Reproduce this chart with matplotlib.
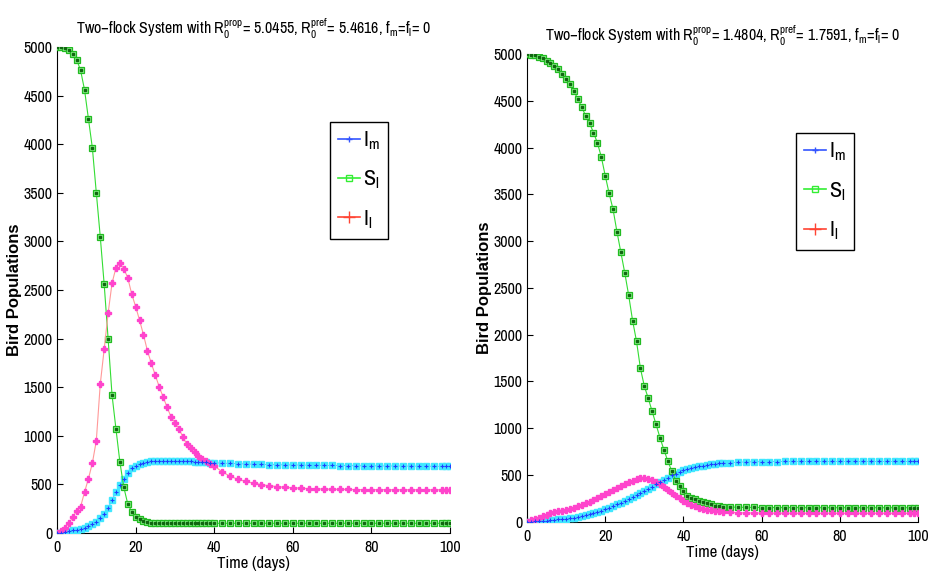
import matplotlib
matplotlib.use('Agg')
import matplotlib.pyplot as plt
from matplotlib.lines import Line2D

narrow = ['Archivo Narrow', 'Roboto Condensed', 'Liberation Sans', 'DejaVu Sans']
plt.rcParams['font.family'] = narrow
plt.rcParams['mathtext.fontset'] = 'custom'
plt.rcParams['mathtext.rm'] = 'Archivo Narrow'
plt.rcParams['mathtext.it'] = 'Archivo Narrow'
plt.rcParams['mathtext.bf'] = 'Archivo Narrow:bold'

# ---- left panel: R0 = 5.0455 / 5.4616 ----
t_left = list(range(0, 41)) + list(range(42, 100, 2)) + [99, 100]

S_left = [5000, 4995, 4985, 4965, 4930, 4870, 4760, 4560, 4260, 3960,
          3500, 3050, 2560, 2000, 1420, 1070, 730, 470, 300, 220,
          168, 140, 122, 113, 107, 104, 102, 101, 101, 100,
          100, 100, 100, 100, 100, 100, 100, 100, 100, 100, 100] + [100] * 29 + [100, 100]

Il_left = [0, 20, 50, 100, 160, 230, 270, 420, 560, 720,
           950, 1530, 1890, 2260, 2570, 2730, 2775, 2720, 2625, 2460,
           2330, 2190, 2040, 1875, 1745, 1625, 1505, 1400, 1295, 1196,
           1135, 1075, 990, 915, 870, 830, 795, 765, 740, 715, 690,
           630, 585, 553, 530, 512, 498, 486, 478, 470, 465,
           461, 457, 454, 452, 450, 449, 448, 447, 447, 446,
           446, 446, 445, 445, 445, 445, 445, 445, 445,
           445, 445]

Im_left = [0, 5, 10, 18, 26, 35, 44, 55, 70, 90,
           115, 150, 195, 255, 340, 420, 490, 560, 615, 665,
           690, 708, 722, 730, 736, 739, 741, 743, 744, 744,
           744, 743, 742, 740, 738, 735, 733, 730, 727, 724, 722,
           719, 716, 713, 710, 708, 706, 704, 702, 701, 700,
           699, 698, 697, 696, 695, 694, 693, 692, 691, 691,
           690, 690, 689, 689, 688, 688, 687, 687, 686,
           686, 686]

# ---- right panel: R0 = 1.4804 / 1.7591 ----
t_right = list(range(0, 51)) + list(range(52, 100, 2)) + [99, 100]

S_right = [5000, 4995, 4985, 4970, 4955, 4930, 4905, 4875, 4840, 4790,
           4735, 4675, 4600, 4520, 4430, 4340, 4260, 4160, 4050, 3900,
           3700, 3510, 3340, 3100, 2880, 2660, 2420, 2150, 1930, 1640,
           1450, 1320, 1180, 1040, 900, 770, 650, 545, 440, 380,
           325, 280, 255, 238, 222, 210, 197, 185, 172, 165, 160,
           157, 155, 154, 153, 152, 152, 151, 151, 151, 151,
           150, 150, 150, 150, 150, 150, 150, 150, 150, 150, 150, 150,
           150, 150, 150, 150]

Il_right = [0, 15, 30, 45, 60, 75, 90, 100, 110, 120,
            130, 140, 152, 165, 180, 195, 212, 230, 250, 272,
            295, 315, 336, 357, 378, 400, 420, 440, 455, 466,
            468, 462, 450, 430, 405, 375, 340, 305, 275, 250,
            225, 200, 180, 165, 150, 140, 130, 122, 115, 110, 105,
            100, 96, 94, 93, 92, 91, 91, 91, 90, 90,
            90, 90, 90, 90, 90, 90, 90, 90, 90, 90, 90, 90,
            90, 90, 90, 90]

Im_right = [0, 2, 4, 7, 10, 13, 16, 20, 24, 28,
            32, 36, 44, 52, 62, 70, 80, 92, 105, 118,
            132, 148, 168, 185, 205, 225, 245, 265, 285, 305,
            330, 355, 375, 400, 425, 448, 472, 495, 515, 532,
            548, 560, 572, 582, 592, 600, 607, 613, 618, 623, 627,
            632, 637, 639, 641, 642, 643, 643, 644, 644, 644,
            645, 645, 645, 645, 645, 645, 645, 645, 645, 645, 645, 645,
            645, 645, 645, 645]

titles = ['Two\u2212flock System with R$_0^{prop}$= 5.0455, R$_0^{pref}$= 5.4616, f$_m$=f$_l$= 0',
          'Two\u2212flock System with R$_0^{prop}$= 1.4804, R$_0^{pref}$= 1.7591, f$_m$=f$_l$= 0']
labels = ['I$_m$', 'S$_l$', 'I$_l$']

fig = plt.figure(figsize=(9.3, 5.81), dpi=100)
ax1 = fig.add_axes([0.0613, 0.0826, 0.4226, 0.8365])
ax2 = fig.add_axes([0.5667, 0.102, 0.4204, 0.805])

panels = [(ax1, t_left, S_left, Il_left, Im_left, titles[0], (0.695, 0.846)),
          (ax2, t_right, S_right, Il_right, Im_right, titles[1], (0.688, 0.831))]

for ax, t, S, Il, Im, title, legpos in panels:
    # I_m : cyan blobs with blue centre
    ax.plot(t, Im, color='#8080ff', lw=0.6, marker='s', ms=4.5,
            mfc='#40e8ff', mec='#40e8ff', zorder=3)
    ax.plot(t, Im, ls='none', marker='+', ms=3, mew=0.8, color='#2040ff', zorder=4)
    # S_l : green squares
    ax.plot(t, S, color='#33dd33', lw=0.8, marker='s', ms=4.5,
            mfc='#88ee88', mec='#22bb22', mew=0.9, zorder=3)
    ax.plot(t, S, ls='none', marker='s', ms=1.6, color='#116611', zorder=4)
    # I_l : magenta crosses on a red line
    ax.plot(t, Il, color='#ff9999', lw=0.8, marker='P', ms=4.5,
            mfc='#ff44cc', mec='#ff44cc', zorder=3)

    ax.set_xlim(0, 100)
    ax.set_ylim(0, 5000)
    ax.set_xticks([0, 20, 40, 60, 80, 100])
    ax.set_yticks(range(0, 5001, 500))
    ax.tick_params(direction='in', labelsize=11.5, length=4)
    ax.tick_params(axis='x', pad=5)
    ax.spines['top'].set_visible(False)
    ax.spines['right'].set_visible(False)
    ax.set_xlabel('Time (days)', fontsize=12, labelpad=1)
    ax.set_ylabel('Bird Populations', fontsize=12, fontweight='bold',
                  family=['Liberation Sans', 'DejaVu Sans'])
    ax.yaxis.set_label_coords(-0.09, 0.5)
    ax.set_title(title, fontsize=11.5, pad=9)

    handles = [Line2D([], [], color='#3355ff', marker='+', ms=5, lw=1.2),
               Line2D([], [], color='#33ee33', marker='s', ms=4, mfc='none', lw=1.2),
               Line2D([], [], color='#ff4433', marker='+', ms=8, lw=1.2)]
    ax.legend(handles, labels, loc='upper left', bbox_to_anchor=legpos, borderaxespad=0,
              fontsize=16, labelspacing=0.75, handlelength=1.0, handletextpad=0.15,
              borderpad=0.35, fancybox=False, edgecolor='black', framealpha=1)

fig.savefig('out.png', dpi=100)
